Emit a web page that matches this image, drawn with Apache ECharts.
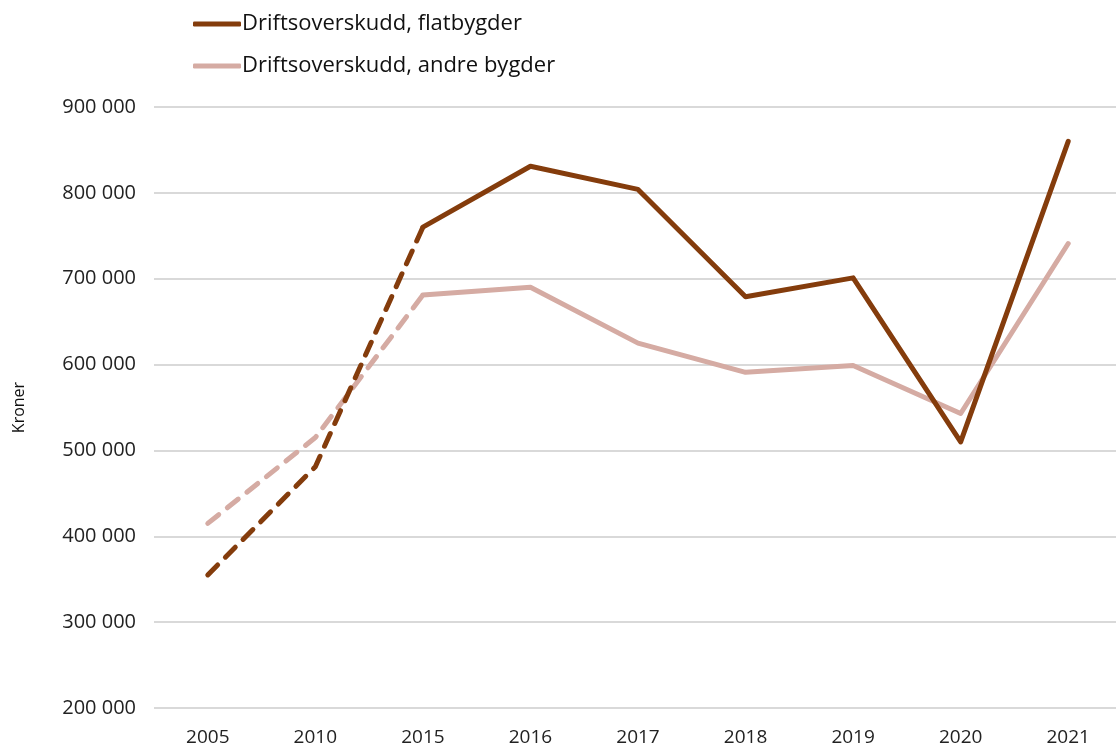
<!DOCTYPE html>
<html>
<head>
<meta charset="UTF-8">
<script src="https://cdn.jsdelivr.net/npm/echarts@6/dist/echarts.min.js"></script>
<style>
  html, body { margin: 0; padding: 0; background: #fff; }
  #chart { width: 1116px; height: 746px; }
</style>
</head>
<body>
<div id="chart"></div>
<script>
// data
var years = ['2005', '2010', '2015', '2016', '2017', '2018', '2019', '2020', '2021'];
var flatbygder = [355000, 481000, 760000, 831000, 804000, 679000, 701000, 510000, 860000];
var andreBygder = [415000, 515000, 681000, 690000, 625000, 591000, 599000, 543000, 741000];
var yTicks = [200000, 300000, 400000, 500000, 600000, 700000, 800000, 900000];
var names = ['Driftsoverskudd, flatbygder', 'Driftsoverskudd, andre bygder'];
var colors = ['#843c0c', '#d5aba3'];
var dashEnd = 2; // 2005-2015 drawn dashed

function part(arr, from, to) {
  return arr.map(function (v, i) { return (i >= from && i <= to) ? v : null; });
}

var series = [];
[flatbygder, andreBygder].forEach(function (arr, k) {
  series.push({
    name: names[k], type: 'line', data: part(arr, dashEnd, arr.length - 1),
    symbol: 'none', z: 3 - k,
    lineStyle: { color: colors[k], width: 5, cap: 'round', join: 'round' },
    itemStyle: { color: colors[k] }
  });
  series.push({
    name: names[k] + '_dash', type: 'line', data: part(arr, 0, dashEnd),
    symbol: 'none', z: 3 - k,
    lineStyle: { color: colors[k], width: 5, type: [14, 11], cap: 'round' }
  });
});

var myChart = echarts.init(document.getElementById('chart'));
myChart.setOption({
  animation: false,
  textStyle: { fontFamily: 'Open Sans' },
  legend: {
    data: names,
    orient: 'vertical',
    left: 188, top: 8,
    itemWidth: 48, itemHeight: 5, itemGap: 20,
    icon: 'roundRect',
    textStyle: { fontSize: 22, color: '#111', padding: [0, 0, 0, -4] }
  },
  grid: { left: 154, top: 107, width: 968, bottom: 38, containLabel: false, outerBoundsMode: 'none' },
  xAxis: {
    type: 'category', data: years, boundaryGap: true,
    axisLine: { show: false }, axisTick: { show: false },
    axisLabel: { fontSize: 19, color: '#222', margin: 20 }
  },
  yAxis: {
    type: 'value', min: yTicks[0], max: yTicks[yTicks.length - 1], interval: 100000,
    name: 'Kroner', nameLocation: 'middle', nameGap: 127, nameRotate: 90,
    nameTextStyle: { fontSize: 16, color: '#111' },
    axisLine: { show: false }, axisTick: { show: false },
    axisLabel: {
      fontSize: 20, color: '#222', margin: 18,
      formatter: function (v) { return String(v).replace(/\B(?=(\d{3})+(?!\d))/g, ' '); }
    },
    splitLine: { lineStyle: { color: '#d9d9d9', width: 2 } }
  },
  series: series
});
</script>
</body>
</html>
